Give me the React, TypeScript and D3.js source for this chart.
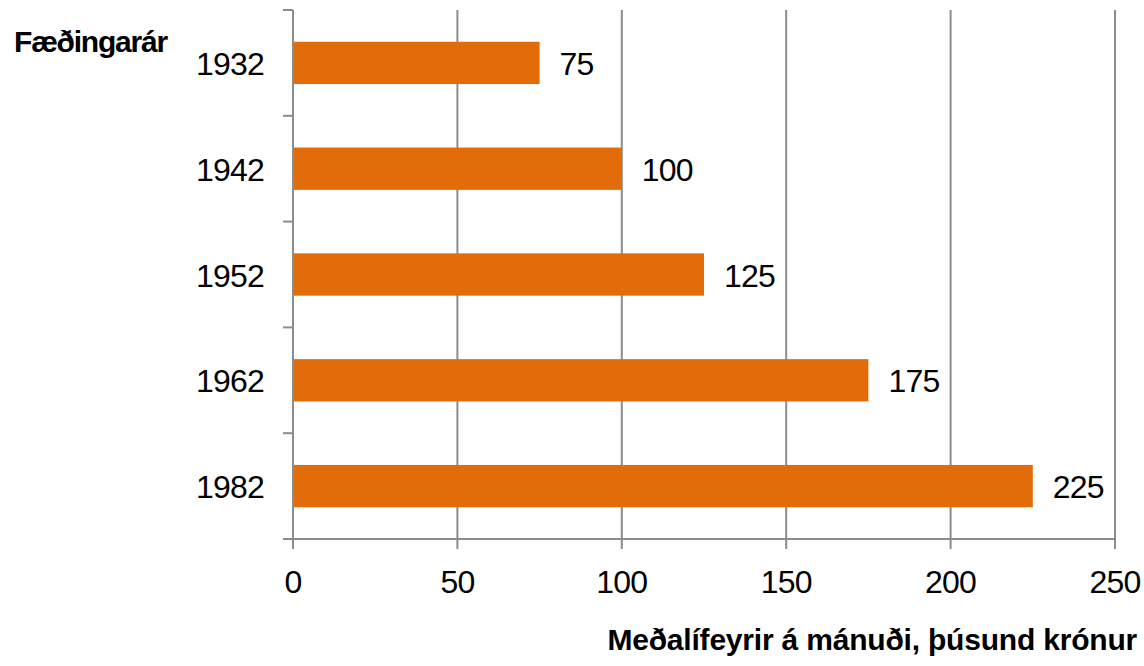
import React from "react";
import * as d3 from "d3";

const categories = ["1932", "1942", "1952", "1962", "1982"];
const values = [75, 100, 125, 175, 225];
const xTicks = [0, 50, 100, 150, 200, 250];
const yTitle = "Fæðingarár";
const xTitle = "Meðalífeyrir á mánuði, þúsund krónur";

const W = 1144;
const H = 666;
const left = 293;
const right = 1115;
const top = 10;
const bottom = 539;
const font = "'Liberation Sans', Arial, sans-serif";
const grid = "#8c8c8c";

export default function App() {
  const x = d3.scaleLinear().domain([0, 250]).range([left, right]);
  const y = d3.scaleBand().domain(categories).range([top, bottom]).paddingInner(0.6).paddingOuter(0.3);
  const step = (bottom - top) / categories.length;
  const bounds = d3.range(categories.length + 1).map((i) => top + i * step);
  const fs = 32;
  const ls = -0.8;
  return (
    <svg width={W} height={H} style={{ position: "absolute", left: 0, top: 0, background: "#fff" }}>
      {xTicks.map((t) => (
        <g key={t}>
          <line x1={x(t)} x2={x(t)} y1={top} y2={bottom + 10} stroke={grid} strokeWidth={2} />
          <text x={x(t)} y={593} textAnchor="middle" fontFamily={font} fontSize={fs} letterSpacing={ls} fill="#000">{t}</text>
        </g>
      ))}
      {categories.map((c, i) => (
        <g key={c}>
          <rect x={x(0)} y={y(c)} width={x(values[i]) - x(0)} height={y.bandwidth()} fill="#E36C0A" />
          <text x={x(values[i]) + 20} y={y(c)! + y.bandwidth() / 2 + 12} fontFamily={font} fontSize={fs} letterSpacing={ls} fill="#000">{values[i]}</text>
          <text x={264} y={y(c)! + y.bandwidth() / 2 + 12} textAnchor="end" fontFamily={font} fontSize={fs} letterSpacing={ls} fill="#000">{c}</text>
        </g>
      ))}
      {bounds.map((b, i) => (
        <line key={i} x1={left - 10} x2={left} y1={b} y2={b} stroke={grid} strokeWidth={2} />
      ))}
      <line x1={left} x2={left} y1={top} y2={bottom} stroke={grid} strokeWidth={2} />
      <line x1={left - 10} x2={right} y1={bottom} y2={bottom} stroke={grid} strokeWidth={2} />
      <text x={14} y={52} fontFamily={font} fontSize={30} fontWeight="bold" letterSpacing={-1.2} fill="#000">{yTitle}</text>
      <text x={1137} y={650} textAnchor="end" fontFamily={font} fontSize={30} fontWeight="bold" letterSpacing={-0.2} fill="#000">{xTitle}</text>
    </svg>
  );
}
